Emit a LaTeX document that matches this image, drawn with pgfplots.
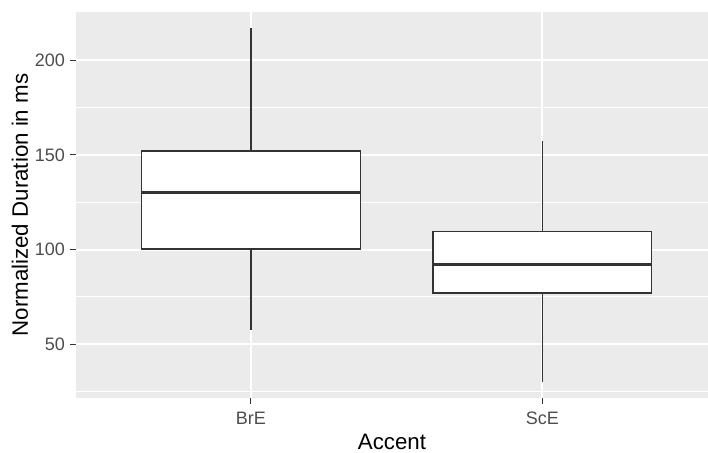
\documentclass[border=0pt]{standalone}
\usepackage{fontspec}
\setmainfont{Liberation Sans}
\usepackage{pgfplots}
\pgfplotsset{compat=1.18}
\definecolor{panelbg}{HTML}{EBEBEB}
\definecolor{gtwenty}{HTML}{333333}
\definecolor{gthirty}{HTML}{4D4D4D}
\begin{document}
\begin{tikzpicture}
\path[use as bounding box] (0,0) rectangle (708bp,453bp);
\begin{axis}[
  at={(76bp,55bp)}, anchor=south west,
  scale only axis, width=632bp, height=386bp,
  xmin=0.4, xmax=2.568, ymin=21.6, ymax=225.4,
  axis background/.style={fill=panelbg},
  axis line style={draw=none},
  xtick={1,2}, xticklabels={BrE,ScE},
  ytick={50,100,150,200},
  minor ytick={25,75,125,175},
  tick pos=left, tick align=outside,
  major tick length=6bp,
  major tick style={draw=gtwenty, line width=1.1bp},
  minor tick style={draw=none},
  grid=both,
  major grid style={draw=white, line width=2bp},
  minor grid style={draw=white, line width=1bp},
  /pgf/number format/assume math mode=true,
  ticklabel style={font=\fontsize{18bp}{20bp}\selectfont, text=gthirty},
  yticklabel style={anchor=east, inner sep=0pt, xshift=-5bp},
  xticklabel style={anchor=north, inner sep=0pt, yshift=-8bp},
  xlabel={Accent},
  ylabel={Normalized Duration in ms},
  every axis x label/.style={at={(axis description cs:0.5,-0.1330)}, anchor=base, inner sep=0pt, font=\fontsize{22.3bp}{25bp}\selectfont},
  every axis y label/.style={at={(axis description cs:-0.0886,0.5)}, rotate=90, anchor=center, inner sep=0pt, font=\fontsize{22.3bp}{25bp}\selectfont},
]
% BrE: whiskers 57.4 / 216.7, quartiles 100.2 / 152.0, median 130.1
\addplot[draw=gtwenty, line width=1.4bp] coordinates {(1,152.0) (1,216.7)};
\addplot[draw=gtwenty, line width=1.4bp] coordinates {(1,100.2) (1,57.4)};
\addplot[draw=gtwenty, fill=white, line width=1.4bp] coordinates {(0.625,100.2) (1.375,100.2) (1.375,152.0) (0.625,152.0)} -- cycle;
\addplot[draw=gtwenty, line width=3bp] coordinates {(0.625,130.1) (1.375,130.1)};
% ScE: whiskers 30.0 / 157.1, quartiles 77.0 / 109.6, median 92.0
\addplot[draw=gtwenty, line width=1.4bp] coordinates {(2,109.6) (2,157.1)};
\addplot[draw=gtwenty, line width=1.4bp] coordinates {(2,77.0) (2,30.0)};
\addplot[draw=gtwenty, fill=white, line width=1.4bp] coordinates {(1.625,77.0) (2.375,77.0) (2.375,109.6) (1.625,109.6)} -- cycle;
\addplot[draw=gtwenty, line width=3bp] coordinates {(1.625,92.0) (2.375,92.0)};
\end{axis}
\end{tikzpicture}
\end{document}
